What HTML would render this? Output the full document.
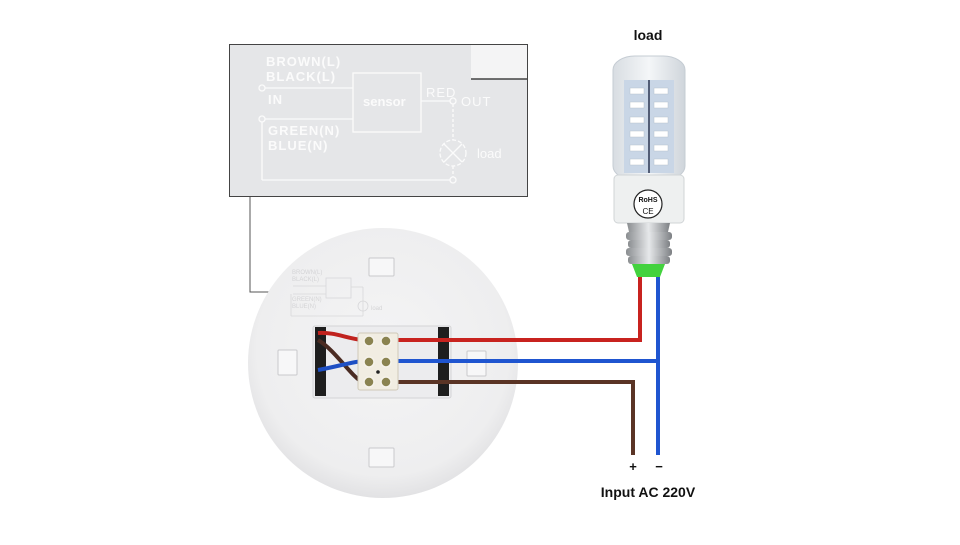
<!DOCTYPE html>
<html><head><meta charset="utf-8"><style>
html,body{margin:0;padding:0;background:#fff;}
svg{display:block;font-family:"Liberation Sans",Arial,sans-serif;}
</style></head><body>
<svg width="960" height="545" viewBox="0 0 960 545" xmlns="http://www.w3.org/2000/svg">
<defs>
<radialGradient id="disc" cx="50%" cy="45%" r="55%">
<stop offset="0" stop-color="#f4f4f5"/><stop offset="0.85" stop-color="#eeeeef"/><stop offset="1" stop-color="#e2e2e4"/>
</radialGradient>
<linearGradient id="bulb" x1="0" x2="1">
<stop offset="0" stop-color="#d8dde2"/><stop offset="0.5" stop-color="#f4f6f8"/><stop offset="1" stop-color="#cfd5db"/>
</linearGradient>
<linearGradient id="metal" x1="0" x2="1">
<stop offset="0" stop-color="#8a8d90"/><stop offset="0.5" stop-color="#e6e8ea"/><stop offset="1" stop-color="#7d8084"/>
</linearGradient>
</defs>

<!-- Inset box -->
<rect x="229.5" y="44.5" width="298" height="152" fill="#e5e6e8" stroke="#444" stroke-width="1"/>
<rect x="471" y="45" width="56" height="34" fill="#f4f4f5"/>
<line x1="471" y1="79" x2="527" y2="79" stroke="#222" stroke-width="1.2"/>
<g fill="none" stroke="#fbfbfb" stroke-width="1.3">
<circle cx="262" cy="88" r="3"/>
<line x1="265" y1="88" x2="353" y2="88"/>
<circle cx="262" cy="119" r="3"/>
<line x1="265" y1="119" x2="353" y2="119"/>
<line x1="262" y1="122" x2="262" y2="180"/>
<line x1="262" y1="180" x2="450" y2="180"/>
<circle cx="453" cy="180" r="3"/>
<rect x="353" y="73" width="68" height="59"/>
<line x1="421" y1="101" x2="450" y2="101"/>
<circle cx="453" cy="101" r="3"/>
<line x1="453" y1="104" x2="453" y2="140" stroke-dasharray="3,2"/>
<circle cx="453" cy="153" r="13" stroke-dasharray="4,2"/>
<line x1="444" y1="144" x2="462" y2="162"/><line x1="462" y1="144" x2="444" y2="162"/>
<line x1="453" y1="166" x2="453" y2="177" stroke-dasharray="3,2"/>
</g>
<g fill="#fbfbfb" font-size="13" font-weight="bold" letter-spacing="1">
<text x="266" y="66">BROWN(L)</text>
<text x="266" y="81">BLACK(L)</text>
<text x="268" y="104">IN</text>
<text x="268" y="135">GREEN(N)</text>
<text x="268" y="150">BLUE(N)</text>
<text x="363" y="106" letter-spacing="0">sensor</text>
<text x="426" y="97" font-weight="normal">RED</text>
<text x="461" y="106" font-weight="normal">OUT</text>
<text x="477" y="158" font-weight="normal" letter-spacing="0">load</text>
</g>

<!-- leader -->
<polyline points="250,197 250,292 290,292" fill="none" stroke="#555" stroke-width="1"/>
<circle cx="290" cy="292" r="1.8" fill="#fff" stroke="#333"/>

<!-- Disc -->
<circle cx="383" cy="363" r="135" fill="url(#disc)"/>
<!-- mini label -->
<g fill="none" stroke="#d8d8da" stroke-width="0.8">
<rect x="326" y="278" width="25" height="20"/>
<line x1="293" y1="286" x2="326" y2="286"/><line x1="293" y1="294" x2="326" y2="294"/>
<line x1="291" y1="294" x2="291" y2="316"/><line x1="291" y1="316" x2="363" y2="316"/>
<line x1="351" y1="287" x2="363" y2="287"/><line x1="363" y1="287" x2="363" y2="316"/>
<circle cx="363" cy="306" r="5"/>
</g>
<g fill="#d4d4d6" font-size="6"><text x="292" y="274">BROWN(L)</text><text x="292" y="281">BLACK(L)</text><text x="292" y="301">GREEN(N)</text><text x="292" y="308">BLUE(N)</text><text x="371" y="310">load</text></g>
<!-- tabs -->
<g fill="#f7f7f8" stroke="#c9c9cc" stroke-width="1">
<rect x="369" y="258" width="25" height="18" rx="1"/>
<rect x="278" y="350" width="19" height="25" rx="1"/>
<rect x="467" y="351" width="19" height="25" rx="1"/>
<rect x="369" y="448" width="25" height="19" rx="1"/>
</g>
<!-- window -->
<rect x="313" y="326" width="138" height="72" rx="2" fill="#ececee" stroke="#d4d4d6"/>
<rect x="315" y="327" width="11" height="69" fill="#1e1e1e"/>
<rect x="438" y="327" width="11" height="69" fill="#1e1e1e"/>
<!-- wires inside -->
<path d="M318,333 C335,332 345,338 362,340" stroke="#c0221e" stroke-width="4" fill="none"/>
<path d="M318,340 C335,350 350,375 362,382" stroke="#4a2b22" stroke-width="4" fill="none"/>
<path d="M318,370 C335,367 348,363 362,361" stroke="#1d4fc4" stroke-width="4" fill="none"/>
<!-- outer wires -->
<path d="M398,340 H640 V277" stroke="#c8231f" stroke-width="4" fill="none"/>
<path d="M398,361 H656" stroke="#1f55d0" stroke-width="4" fill="none"/>
<path d="M658,277 V455" stroke="#1f55d0" stroke-width="4" fill="none"/>
<path d="M398,382 H633 V455" stroke="#5a3425" stroke-width="4" fill="none"/>
<!-- terminal block -->
<rect x="358" y="333" width="40" height="57" rx="2" fill="#f1ede2" stroke="#cfc9b8"/>
<g fill="#8a8350" stroke="#f5f2ea" stroke-width="1.5">
<circle cx="369" cy="341" r="5"/><circle cx="386" cy="341" r="5"/>
<circle cx="369" cy="362" r="5"/><circle cx="386" cy="362" r="5"/>
<circle cx="369" cy="382" r="5"/><circle cx="386" cy="382" r="5"/>
</g>
<circle cx="378" cy="372" r="1.8" fill="#222"/>

<!-- Bulb -->
<rect x="613" y="56" width="72" height="124" rx="22" ry="14" fill="url(#bulb)" stroke="#c5ccd3"/>
<rect x="624" y="80" width="50" height="93" fill="#c9d6e6"/>
<line x1="649" y1="80" x2="649" y2="173" stroke="#2a3550" stroke-width="1.5"/>
<g fill="#ffffff" stroke="#b8c2cc" stroke-width="0.5">
<rect x="630" y="88" width="14" height="6"/><rect x="654" y="88" width="14" height="6"/>
<rect x="630" y="102" width="14" height="6"/><rect x="654" y="102" width="14" height="6"/>
<rect x="630" y="117" width="14" height="6"/><rect x="654" y="117" width="14" height="6"/>
<rect x="630" y="131" width="14" height="6"/><rect x="654" y="131" width="14" height="6"/>
<rect x="630" y="145" width="14" height="6"/><rect x="654" y="145" width="14" height="6"/>
<rect x="630" y="159" width="14" height="6"/><rect x="654" y="159" width="14" height="6"/>
</g>
<rect x="614" y="175" width="70" height="48" rx="4" fill="#eef0f0" stroke="#d0d4d6"/>
<circle cx="648" cy="204" r="14" fill="#fff" stroke="#222" stroke-width="1.2"/>
<text x="648" y="202" font-size="7" text-anchor="middle" fill="#111" font-weight="bold">RoHS</text>
<text x="648" y="214" font-size="8" text-anchor="middle" fill="#111">CE</text>
<path d="M627,223 H670 L668,232 H629 Z" fill="url(#metal)"/>
<g fill="url(#metal)">
<rect x="626" y="232" width="46" height="8" rx="3"/>
<rect x="628" y="240" width="42" height="8" rx="3"/>
<rect x="626" y="248" width="46" height="8" rx="3"/>
<rect x="628" y="256" width="42" height="8" rx="3"/>
</g>
<path d="M632,264 H665 L660,277 H637 Z" fill="#43d23e"/>

<!-- labels -->
<g font-weight="bold" fill="#111">
<text x="648" y="40" font-size="14" text-anchor="middle">load</text>
<text x="633" y="471" font-size="13" text-anchor="middle">+</text>
<text x="659" y="471" font-size="13" text-anchor="middle">−</text>
<text x="648" y="497" font-size="14" text-anchor="middle">Input AC 220V</text>
</g>
</svg>
</body></html>
